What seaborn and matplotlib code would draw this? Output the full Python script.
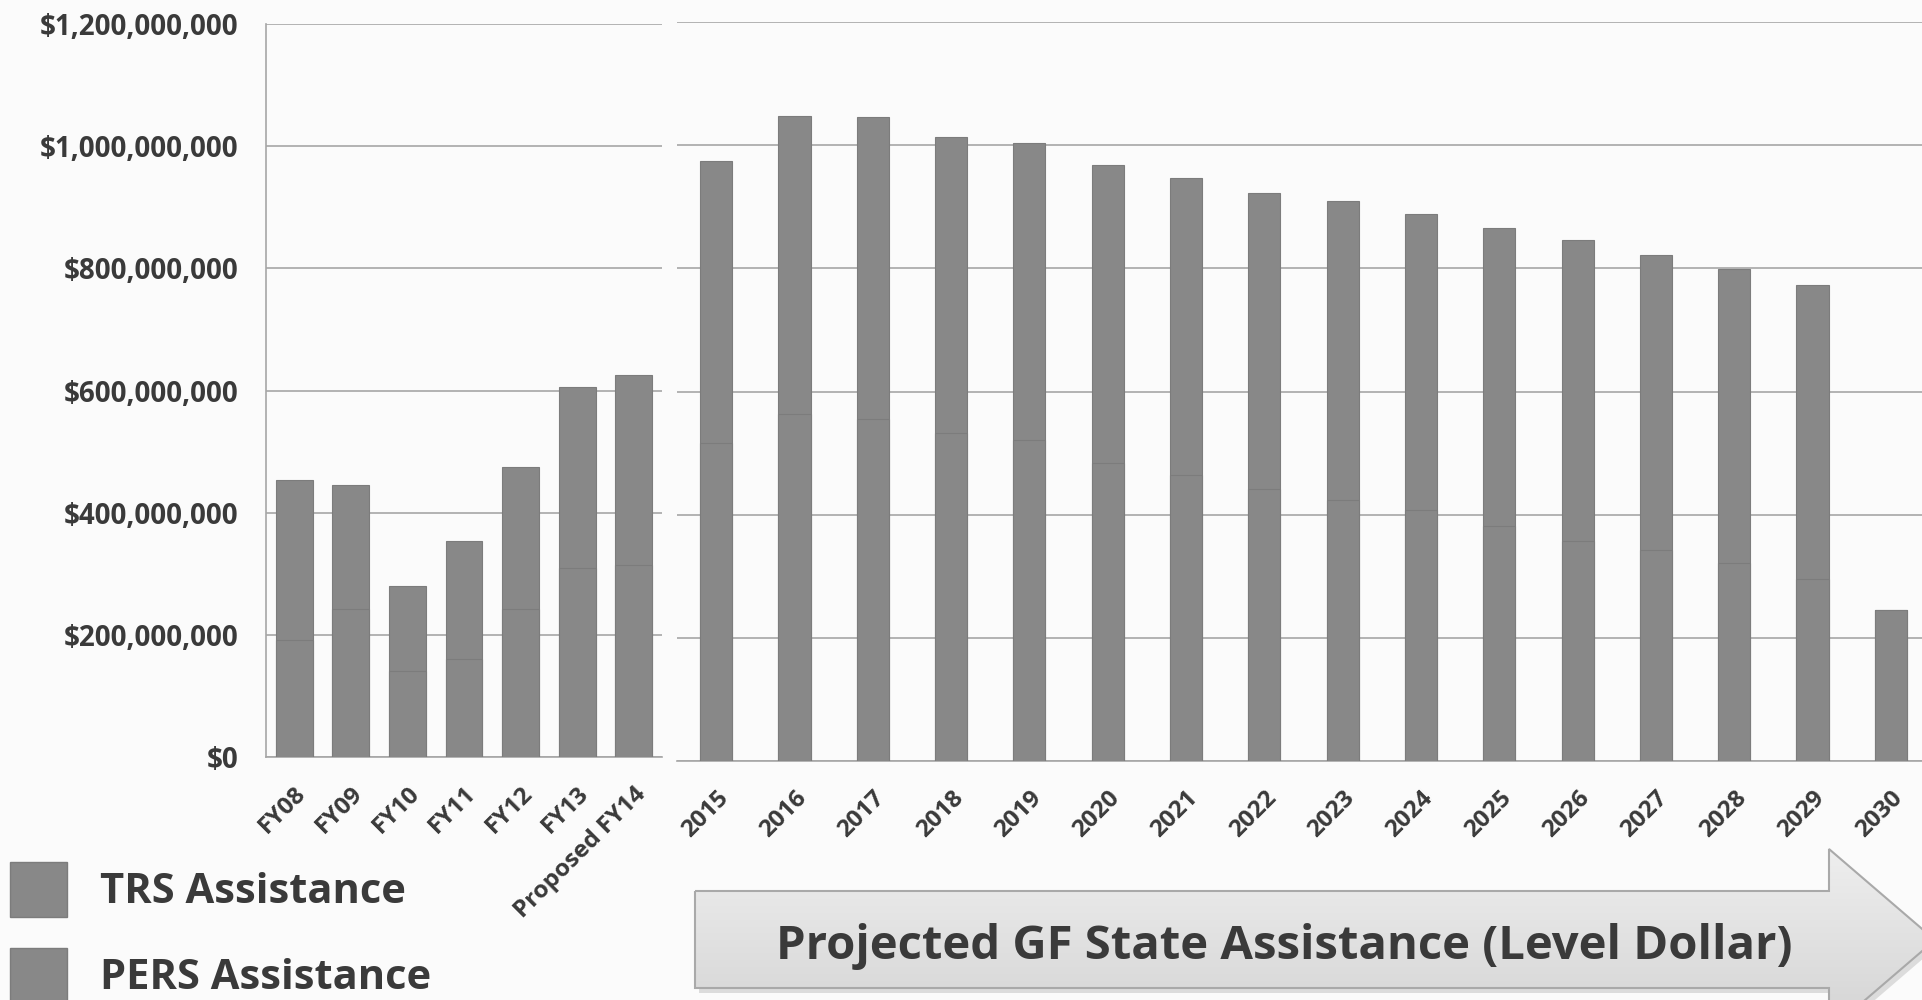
import numpy as np
import matplotlib
matplotlib.use("Agg")
import matplotlib.pyplot as plt
from matplotlib.patches import Polygon, Patch
from matplotlib.colors import LinearSegmentedColormap
from matplotlib.ticker import FuncFormatter
import seaborn as sns

# ------------------------------------------------------------------
# Data (millions of dollars)
# ------------------------------------------------------------------
hist_years = ["FY08", "FY09", "FY10", "FY11", "FY12", "FY13", "Proposed FY14"]
hist_trs = [191, 242, 140, 160, 242, 310, 315]
hist_pers = [262, 203, 140, 194, 233, 296, 311]

proj_years = ["2015", "2016", "2017", "2018", "2019", "2020", "2021", "2022",
              "2023", "2024", "2025", "2026", "2027", "2028", "2029", "2030"]
proj_trs = [516, 564, 555, 532, 521, 484, 464, 441,
            424, 408, 381, 358, 342, 321, 296, 246]
proj_pers = [458, 483, 490, 482, 482, 483, 482, 482,
             485, 480, 484, 488, 480, 478, 477, 0]

y_ticks = [0, 200, 400, 600, 800, 1000, 1200]
legend_labels = ["TRS Assistance", "PERS Assistance"]
arrow_label = "Projected GF State Assistance (Level Dollar)"

BAR = "#888888"
EDGE = "#7c7c7c"
GRID = "#a6a6a6"
TEXT = "#3a3a3a"
BG = "#fbfbfb"

sns.set_style("white")
plt.rcParams["font.family"] = ["Open Sans", "DejaVu Sans"]

W, H = 1922, 1000
fig = plt.figure(figsize=(W / 100, H / 100), dpi=100)
fig.patch.set_facecolor(BG)

ax_l = fig.add_axes([266 / W, 1 - 757 / H, (662 - 266) / W, (757 - 24) / H])
ax_r = fig.add_axes([677 / W, 1 - 761 / H, (1930 - 677) / W, (761 - 22) / H])


def draw_stack(ax, cats, trs, pers, width):
    total = [(a + b) * 1e6 for a, b in zip(trs, pers)]
    bottom = [a * 1e6 for a in trs]
    sns.barplot(x=cats, y=total, order=cats, color=BAR, saturation=1,
                width=width, edgecolor=EDGE, linewidth=0.8, errorbar=None,
                ax=ax, zorder=3)
    sns.barplot(x=cats, y=bottom, order=cats, color=BAR, saturation=1,
                width=width, edgecolor=EDGE, linewidth=0.8, errorbar=None,
                ax=ax, zorder=4)
    n = len(cats)
    ax.set_xlim(-0.5, n - 0.5)
    ax.set_ylim(0, 1.2e9)
    ax.set_yticks([v * 1e6 for v in y_ticks])
    ax.yaxis.grid(True, color=GRID, linewidth=1.2, zorder=0)
    ax.set_axisbelow(True)
    ax.set_facecolor("none")
    ax.set_xlabel("")
    ax.set_ylabel("")
    ax.set_xticks(np.arange(-0.5, n), minor=True)
    ax.tick_params(axis="x", which="major", length=0, pad=18)
    ax.tick_params(axis="x", which="minor", length=8, width=1.2,
                   color=GRID, direction="out")
    ax.set_xticks(range(n))
    ax.set_xticklabels(cats, rotation=45, ha="right", va="top",
                       rotation_mode="anchor", fontsize=17.5,
                       fontweight="bold", color=TEXT)
    for side in ["top", "right"]:
        ax.spines[side].set_visible(False)
    ax.spines["bottom"].set_color(GRID)
    ax.spines["bottom"].set_linewidth(1.2)


draw_stack(ax_l, hist_years, hist_trs, hist_pers, 0.65)
draw_stack(ax_r, proj_years, proj_trs, proj_pers, 0.41)

ax_l.spines["left"].set_color(GRID)
ax_l.spines["left"].set_linewidth(1.2)
ax_l.yaxis.set_major_formatter(FuncFormatter(lambda v, p: f"${v:,.0f}"))
ax_l.tick_params(axis="y", length=0, pad=20, labelsize=20, labelcolor=TEXT)
for lab in ax_l.get_yticklabels():
    lab.set_fontweight("bold")

ax_r.spines["left"].set_visible(False)
ax_r.tick_params(axis="y", length=0, labelleft=False)

# ------------------------------------------------------------------
# Legend (bottom left)
# ------------------------------------------------------------------
handles = [Patch(facecolor=BAR, edgecolor=EDGE) for _ in legend_labels]
leg = fig.legend(handles, legend_labels, loc="upper left",
                 bbox_to_anchor=(10 / W, 1 - 862 / H), frameon=False,
                 prop={"size": 30, "weight": "bold"}, labelcolor=TEXT,
                 handlelength=1.37, handleheight=1.65, handletextpad=0.8,
                 labelspacing=0.75, borderpad=0, borderaxespad=0)

# ------------------------------------------------------------------
# Arrow banner
# ------------------------------------------------------------------
ax_o = fig.add_axes([0, 0, 1, 1], zorder=5)
ax_o.set_xlim(0, W)
ax_o.set_ylim(H, 0)
ax_o.axis("off")
ax_o.patch.set_alpha(0)

arrow_pts = [(695, 891), (1829, 891), (1829, 849), (1935, 940),
             (1829, 1031), (1829, 988), (695, 988)]
shadow = Polygon([(x + 4, y + 5) for x, y in arrow_pts], closed=True,
                 facecolor="#cfcfcf", edgecolor="none", alpha=0.7)
ax_o.add_patch(shadow)
arrow = Polygon(arrow_pts, closed=True, facecolor="none",
                edgecolor="#a9a9a9", linewidth=1.5, zorder=3)
ax_o.add_patch(arrow)
grad = np.linspace(0, 1, 200).reshape(-1, 1)
cmap = LinearSegmentedColormap.from_list("banner", ["#efefef", "#d3d3d3"])
im = ax_o.imshow(grad, extent=(690, 1940, 1035, 845), cmap=cmap,
                 aspect="auto", zorder=2)
im.set_clip_path(arrow)
ax_o.text(1284, 947, arrow_label, ha="center", va="center", fontsize=34,
          fontweight="bold", color=TEXT, zorder=4)

fig.savefig("out.png", dpi=100, facecolor=BG)
